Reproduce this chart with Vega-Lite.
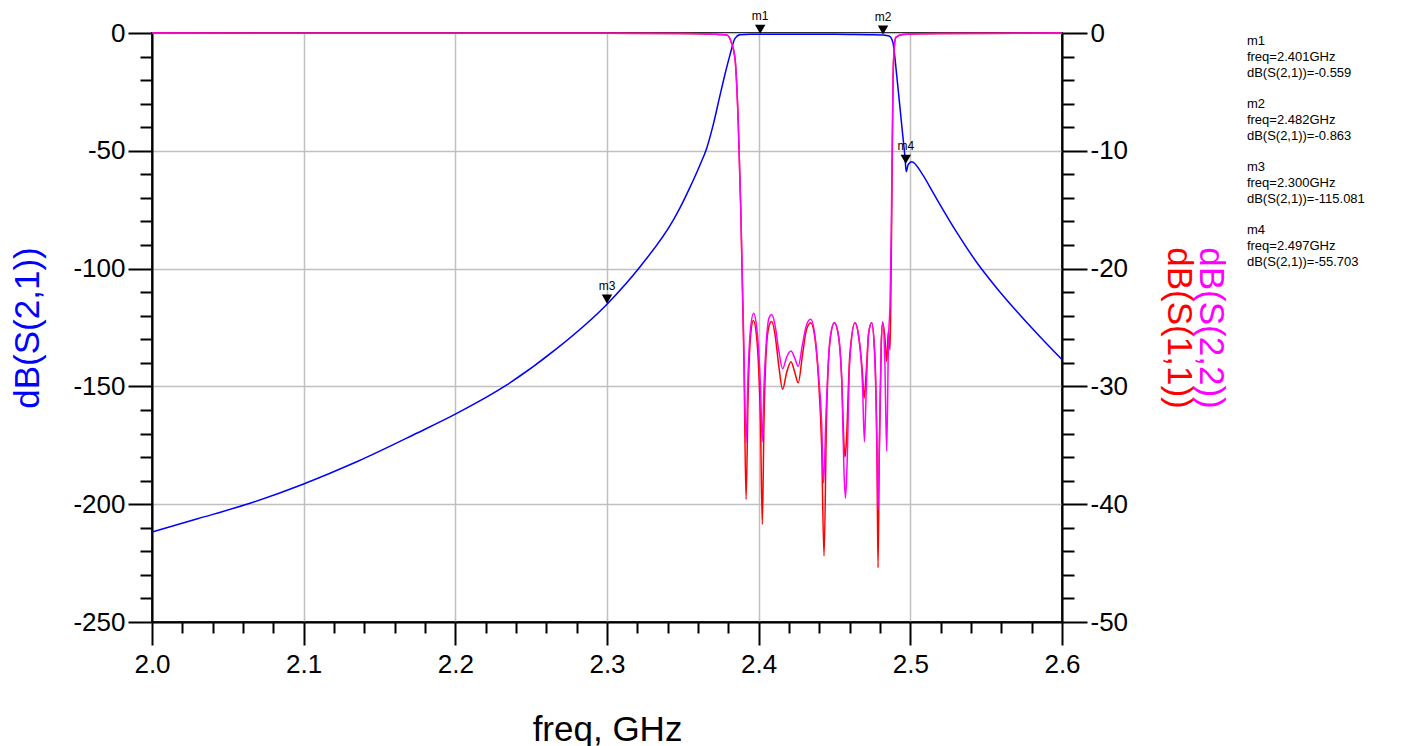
{
  "$schema": "https://vega.github.io/schema/vega-lite/v6.json",
  "autosize": "none",
  "width": 910,
  "height": 589,
  "padding": {"left": 152, "top": 33, "right": 353, "bottom": 124},
  "background": "white",
  "config": {
    "font": "Liberation Sans",
    "view": {"stroke": "black", "strokeWidth": 2},
    "axis": {
      "domainColor": "black", "domainWidth": 2, "tickColor": "black", "tickWidth": 2,
      "labelColor": "black", "labelFont": "Liberation Sans", "titleFont": "Liberation Sans",
      "titleFontWeight": "normal", "labelOverlap": false, "labelFlush": false,
      "gridColor": "#c0c0c0", "gridWidth": 1.5, "tickCount": 200
    }
  },
  "title": {
    "text": ["m1", "freq=2.401GHz", "dB(S(2,1))=-0.559", "\u2800", "m2", "freq=2.482GHz", "dB(S(2,1))=-0.863", "\u2800", "m3", "freq=2.300GHz", "dB(S(2,1))=-115.081", "\u2800", "m4", "freq=2.497GHz", "dB(S(2,1))=-55.703"],
    "orient": "right", "angle": 0, "anchor": "start", "align": "left", "baseline": "top",
    "fontSize": 13, "fontWeight": "normal", "font": "Liberation Sans", "color": "black",
    "lineHeight": 15.75, "offset": 20, "dx": -118, "dy": 25
  },
  "datasets": {
    "s21": [
      {"freq": 2.000, "dB": -211.8}, {"freq": 2.030, "dB": -206.2}, {"freq": 2.0646, "dB": -199.6},
      {"freq": 2.100, "dB": -191.4}, {"freq": 2.135, "dB": -182.0}, {"freq": 2.1745, "dB": -169.9},
      {"freq": 2.200, "dB": -161.8}, {"freq": 2.2339, "dB": -149.4}, {"freq": 2.2668, "dB": -134.0},
      {"freq": 2.300, "dB": -115.1}, {"freq": 2.3218, "dB": -99.2}, {"freq": 2.3437, "dB": -79.4},
      {"freq": 2.3481, "dB": -74.2}, {"freq": 2.3547, "dB": -65.5}, {"freq": 2.3613, "dB": -56.0},
      {"freq": 2.3657, "dB": -49.0}, {"freq": 2.3700, "dB": -39.0}, {"freq": 2.3745, "dB": -26.5},
      {"freq": 2.3780, "dB": -17.0}, {"freq": 2.3811, "dB": -9.3}, {"freq": 2.3844, "dB": -2.3},
      {"freq": 2.3877, "dB": -0.7}, {"freq": 2.3950, "dB": -0.55}, {"freq": 2.401, "dB": -0.559},
      {"freq": 2.420, "dB": -0.5}, {"freq": 2.440, "dB": -0.55}, {"freq": 2.460, "dB": -0.6},
      {"freq": 2.475, "dB": -0.7}, {"freq": 2.482, "dB": -0.863}, {"freq": 2.4860, "dB": -1.3},
      {"freq": 2.4884, "dB": -3.7}, {"freq": 2.4910, "dB": -17.8}, {"freq": 2.4943, "dB": -39.0},
      {"freq": 2.4965, "dB": -53.0}, {"freq": 2.4973, "dB": -58.9}, {"freq": 2.4985, "dB": -56.0},
      {"freq": 2.5009, "dB": -54.6}, {"freq": 2.5080, "dB": -60.0}, {"freq": 2.5152, "dB": -68.0},
      {"freq": 2.5300, "dB": -84.0}, {"freq": 2.5437, "dB": -97.3}, {"freq": 2.5569, "dB": -108.2},
      {"freq": 2.5701, "dB": -118.1}, {"freq": 2.5855, "dB": -128.9}, {"freq": 2.6000, "dB": -138.6}
    ],
    "s11": [
      {"freq": 2.000, "dB": -0.01}, {"freq": 2.200, "dB": -0.02}, {"freq": 2.300, "dB": -0.03},
      {"freq": 2.350, "dB": -0.05}, {"freq": 2.370, "dB": -0.1}, {"freq": 2.3789, "dB": -0.17},
      {"freq": 2.3822, "dB": -0.88}, {"freq": 2.3844, "dB": -2.15}, {"freq": 2.3866, "dB": -7.8},
      {"freq": 2.3882, "dB": -14.9}, {"freq": 2.3903, "dB": -28.0}, {"freq": 2.3917, "dB": -39.6},
      {"freq": 2.3930, "dB": -31.0}, {"freq": 2.3945, "dB": -26.0}, {"freq": 2.3965, "dB": -24.4},
      {"freq": 2.3985, "dB": -25.6}, {"freq": 2.4000, "dB": -28.5}, {"freq": 2.4012, "dB": -33.0},
      {"freq": 2.4024, "dB": -41.7}, {"freq": 2.4035, "dB": -33.0}, {"freq": 2.4050, "dB": -27.0},
      {"freq": 2.4068, "dB": -24.9}, {"freq": 2.4086, "dB": -24.5}, {"freq": 2.4108, "dB": -25.6},
      {"freq": 2.4133, "dB": -28.3}, {"freq": 2.4158, "dB": -30.25}, {"freq": 2.4185, "dB": -28.8},
      {"freq": 2.4213, "dB": -27.9}, {"freq": 2.4238, "dB": -28.8}, {"freq": 2.4261, "dB": -29.7},
      {"freq": 2.4288, "dB": -27.4}, {"freq": 2.4315, "dB": -25.2}, {"freq": 2.4343, "dB": -24.6},
      {"freq": 2.4370, "dB": -25.8}, {"freq": 2.4395, "dB": -29.5}, {"freq": 2.4415, "dB": -35.0},
      {"freq": 2.4431, "dB": -44.4}, {"freq": 2.4447, "dB": -33.0}, {"freq": 2.4470, "dB": -26.2},
      {"freq": 2.4499, "dB": -24.6}, {"freq": 2.4525, "dB": -25.6}, {"freq": 2.4548, "dB": -29.5},
      {"freq": 2.4563, "dB": -35.0}, {"freq": 2.4569, "dB": -36.0}, {"freq": 2.4577, "dB": -35.0},
      {"freq": 2.4600, "dB": -27.5}, {"freq": 2.4635, "dB": -24.6}, {"freq": 2.4660, "dB": -25.8},
      {"freq": 2.4685, "dB": -29.0}, {"freq": 2.4695, "dB": -31.0}, {"freq": 2.4708, "dB": -29.0},
      {"freq": 2.4725, "dB": -25.5}, {"freq": 2.4745, "dB": -24.6}, {"freq": 2.4765, "dB": -27.0},
      {"freq": 2.4780, "dB": -36.0}, {"freq": 2.4787, "dB": -45.4}, {"freq": 2.4795, "dB": -36.0},
      {"freq": 2.4808, "dB": -26.5}, {"freq": 2.4818, "dB": -24.6}, {"freq": 2.4832, "dB": -25.8},
      {"freq": 2.4844, "dB": -27.9}, {"freq": 2.4855, "dB": -25.3}, {"freq": 2.4866, "dB": -26.9},
      {"freq": 2.4872, "dB": -22.0}, {"freq": 2.4880, "dB": -12.0}, {"freq": 2.4886, "dB": -4.0},
      {"freq": 2.4891, "dB": -1.9}, {"freq": 2.4904, "dB": -0.4}, {"freq": 2.4950, "dB": -0.12},
      {"freq": 2.520, "dB": -0.04}, {"freq": 2.600, "dB": -0.01}
    ],
    "s22": [
      {"freq": 2.000, "dB": -0.01}, {"freq": 2.200, "dB": -0.02}, {"freq": 2.300, "dB": -0.03},
      {"freq": 2.350, "dB": -0.05}, {"freq": 2.370, "dB": -0.1}, {"freq": 2.3789, "dB": -0.17},
      {"freq": 2.3822, "dB": -0.88}, {"freq": 2.3844, "dB": -2.15}, {"freq": 2.3866, "dB": -7.8},
      {"freq": 2.3882, "dB": -14.9}, {"freq": 2.3903, "dB": -27.0}, {"freq": 2.3917, "dB": -34.8},
      {"freq": 2.3930, "dB": -29.0}, {"freq": 2.3945, "dB": -25.3}, {"freq": 2.3967, "dB": -23.8},
      {"freq": 2.3985, "dB": -24.8}, {"freq": 2.4000, "dB": -27.0}, {"freq": 2.4012, "dB": -30.0},
      {"freq": 2.4024, "dB": -34.7}, {"freq": 2.4035, "dB": -30.0}, {"freq": 2.4050, "dB": -26.3},
      {"freq": 2.4068, "dB": -24.2}, {"freq": 2.4086, "dB": -23.9}, {"freq": 2.4108, "dB": -24.8},
      {"freq": 2.4133, "dB": -27.0}, {"freq": 2.4158, "dB": -28.5}, {"freq": 2.4185, "dB": -27.5},
      {"freq": 2.4213, "dB": -27.0}, {"freq": 2.4238, "dB": -27.6}, {"freq": 2.4261, "dB": -28.3},
      {"freq": 2.4288, "dB": -26.5}, {"freq": 2.4315, "dB": -24.8}, {"freq": 2.4343, "dB": -24.3},
      {"freq": 2.4370, "dB": -25.6}, {"freq": 2.4395, "dB": -29.0}, {"freq": 2.4415, "dB": -33.0},
      {"freq": 2.4428, "dB": -38.2}, {"freq": 2.4445, "dB": -32.0}, {"freq": 2.4470, "dB": -26.0},
      {"freq": 2.4499, "dB": -24.6}, {"freq": 2.4525, "dB": -25.6}, {"freq": 2.4548, "dB": -29.5},
      {"freq": 2.4562, "dB": -37.0}, {"freq": 2.4572, "dB": -39.5}, {"freq": 2.4582, "dB": -37.0},
      {"freq": 2.4600, "dB": -28.0}, {"freq": 2.4635, "dB": -24.6}, {"freq": 2.4660, "dB": -25.8},
      {"freq": 2.4685, "dB": -30.0}, {"freq": 2.4697, "dB": -34.7}, {"freq": 2.4710, "dB": -30.0},
      {"freq": 2.4725, "dB": -25.5}, {"freq": 2.4745, "dB": -24.6}, {"freq": 2.4765, "dB": -27.5},
      {"freq": 2.4780, "dB": -35.0}, {"freq": 2.4787, "dB": -40.5}, {"freq": 2.4797, "dB": -34.0},
      {"freq": 2.4808, "dB": -26.5}, {"freq": 2.4818, "dB": -24.5}, {"freq": 2.4832, "dB": -28.0},
      {"freq": 2.4844, "dB": -35.5}, {"freq": 2.4856, "dB": -26.0}, {"freq": 2.4866, "dB": -23.0},
      {"freq": 2.4874, "dB": -17.0}, {"freq": 2.4880, "dB": -10.0}, {"freq": 2.4886, "dB": -4.0},
      {"freq": 2.4891, "dB": -1.9}, {"freq": 2.4904, "dB": -0.35}, {"freq": 2.4950, "dB": -0.12},
      {"freq": 2.520, "dB": -0.04}, {"freq": 2.600, "dB": -0.01}
    ],
    "markers": [
      {"name": "m1", "freq": 2.401, "dB": -0.559},
      {"name": "m2", "freq": 2.482, "dB": -0.863},
      {"name": "m3", "freq": 2.300, "dB": -115.081},
      {"name": "m4", "freq": 2.497, "dB": -55.703}
    ]
  },
  "layer": [
    {
      "layer": [
        {
          "data": {"name": "s21"},
          "mark": {"type": "line", "color": "#0000ff", "strokeWidth": 1.5, "interpolate": "monotone"},
          "encoding": {
            "x": {
              "field": "freq", "type": "quantitative",
              "scale": {"domain": [2.0, 2.6], "nice": false, "zero": false},
              "axis": {
                "title": "freq, GHz", "titleFontSize": 35, "titlePadding": 35, "titleColor": "black",
                "values": [2, 2.02, 2.04, 2.06, 2.08, 2.1, 2.12, 2.14, 2.16, 2.18, 2.2, 2.22, 2.24, 2.26, 2.28, 2.3, 2.32, 2.34, 2.36, 2.38, 2.4, 2.42, 2.44, 2.46, 2.48, 2.5, 2.52, 2.54, 2.56, 2.58, 2.6],
                "tickCount": 200,
                "labelExpr": "abs(datum.value*10 - round(datum.value*10)) < 0.001 ? format(datum.value, '.1f') : ''",
                "labelFontSize": 26, "labelPadding": 6,
                "tickSize": {"condition": {"test": "abs(datum.value*10 - round(datum.value*10)) < 0.001", "value": 23}, "value": 11},
                "grid": true,
                "gridOpacity": {"condition": {"test": "abs(datum.value*10 - round(datum.value*10)) < 0.001", "value": 1}, "value": 0}
              }
            },
            "y": {
              "field": "dB", "type": "quantitative",
              "scale": {"domain": [-250, 0], "nice": false, "zero": false},
              "axis": {
                "orient": "left",
                "title": "dB(S(2,1))", "titleColor": "#0000ff", "titleFontSize": 35, "titlePadding": 27,
                "values": [0, -10, -20, -30, -40, -50, -60, -70, -80, -90, -100, -110, -120, -130, -140, -150, -160, -170, -180, -190, -200, -210, -220, -230, -240, -250],
                "tickCount": 200,
                "labelExpr": "datum.value % 50 == 0 ? '' + datum.value : ''",
                "labelFontSize": 26, "labelPadding": 3,
                "tickSize": {"condition": {"test": "datum.value % 50 == 0", "value": 24}, "value": 12},
                "grid": true,
                "gridOpacity": {"condition": {"test": "datum.value % 50 == 0", "value": 1}, "value": 0}
              }
            }
          }
        },
        {
          "data": {"name": "markers"},
          "mark": {"type": "point", "shape": "triangle-down", "filled": true, "color": "black", "size": 110, "yOffset": -5, "opacity": 1},
          "encoding": {
            "x": {"field": "freq", "type": "quantitative"},
            "y": {"field": "dB", "type": "quantitative"}
          }
        },
        {
          "data": {"name": "markers"},
          "mark": {"type": "text", "fontSize": 12, "color": "black", "baseline": "bottom", "dy": -11, "font": "Liberation Sans"},
          "encoding": {
            "x": {"field": "freq", "type": "quantitative"},
            "y": {"field": "dB", "type": "quantitative"},
            "text": {"field": "name"}
          }
        }
      ]
    },
    {
      "data": {"name": "s11"},
      "mark": {"type": "line", "color": "#ff0000", "strokeWidth": 1.5, "interpolate": "monotone"},
      "encoding": {
        "x": {"field": "freq", "type": "quantitative"},
        "y": {
          "field": "dB", "type": "quantitative",
          "scale": {"domain": [-50, 0], "nice": false, "zero": false},
          "axis": {
            "orient": "right",
            "title": "dB(S(1,1))", "titleColor": "#ff0000", "titleFontSize": 35, "titlePadding": 33,
            "values": [0, -2, -4, -6, -8, -10, -12, -14, -16, -18, -20, -22, -24, -26, -28, -30, -32, -34, -36, -38, -40, -42, -44, -46, -48, -50],
            "tickCount": 200,
            "labelExpr": "datum.value % 10 == 0 ? '' + datum.value : ''",
            "labelFontSize": 26, "labelPadding": 3,
            "tickSize": {"condition": {"test": "datum.value % 10 == 0", "value": 25}, "value": 12},
            "grid": false
          }
        }
      }
    },
    {
      "data": {"name": "s22"},
      "mark": {"type": "line", "color": "#ff00ff", "strokeWidth": 1.5, "interpolate": "monotone"},
      "encoding": {
        "x": {"field": "freq", "type": "quantitative"},
        "y": {
          "field": "dB", "type": "quantitative",
          "scale": {"domain": [-50, 0], "nice": false, "zero": false},
          "axis": {
            "orient": "right",
            "title": "dB(S(2,2))", "titleColor": "#ff00ff", "titleFontSize": 35, "titlePadding": 130,
            "labels": false, "ticks": false, "domain": false, "grid": false
          }
        }
      }
    }
  ],
  "resolve": {"scale": {"y": "independent"}}
}
